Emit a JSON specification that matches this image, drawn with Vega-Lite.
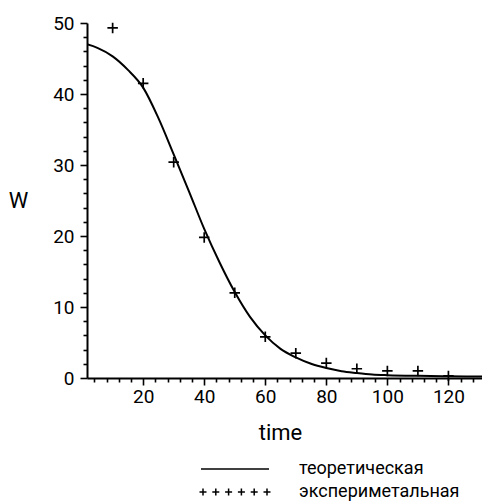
{
  "$schema": "https://vega.github.io/schema/vega-lite/v6.json",
  "autosize": {"type": "none"},
  "padding": {"left": 87, "top": 23, "right": 0, "bottom": 123},
  "width": 395,
  "height": 355,
  "background": "white",
  "datasets": {
    "curve": [
      {"time": 1.6, "W": 47.0}, {"time": 5, "W": 46.5}, {"time": 10, "W": 45.3},
      {"time": 15, "W": 43.4}, {"time": 20, "W": 40.9}, {"time": 25, "W": 36.6},
      {"time": 30, "W": 31.5}, {"time": 35, "W": 26.3}, {"time": 40, "W": 21.0},
      {"time": 45, "W": 16.3}, {"time": 50, "W": 12.1}, {"time": 55, "W": 8.6},
      {"time": 60, "W": 6.0}, {"time": 65, "W": 4.1}, {"time": 70, "W": 2.9},
      {"time": 75, "W": 2.0}, {"time": 80, "W": 1.4}, {"time": 85, "W": 0.95},
      {"time": 90, "W": 0.7}, {"time": 95, "W": 0.5}, {"time": 100, "W": 0.4},
      {"time": 110, "W": 0.3}, {"time": 120, "W": 0.25}, {"time": 131, "W": 0.2}
    ],
    "exp": [
      {"time": 10, "W": 49.3, "series": "экспериметальная"},
      {"time": 20, "W": 41.5, "series": "экспериметальная"},
      {"time": 30, "W": 30.4, "series": "экспериметальная"},
      {"time": 40, "W": 19.8, "series": "экспериметальная"},
      {"time": 50, "W": 12.0, "series": "экспериметальная"},
      {"time": 60, "W": 5.8, "series": "экспериметальная"},
      {"time": 70, "W": 3.5, "series": "экспериметальная"},
      {"time": 80, "W": 2.1, "series": "экспериметальная"},
      {"time": 90, "W": 1.3, "series": "экспериметальная"},
      {"time": 100, "W": 1.0, "series": "экспериметальная"},
      {"time": 110, "W": 1.0, "series": "экспериметальная"},
      {"time": 120, "W": 0.3, "series": "экспериметальная"}
    ]
  },
  "layer": [
    {
      "data": {"name": "curve"},
      "mark": {"type": "line", "color": "black", "strokeWidth": 2, "interpolate": "monotone", "clip": true},
      "encoding": {
        "x": {
          "field": "time", "type": "quantitative",
          "scale": {"domain": [1.6, 131], "nice": false, "zero": false},
          "axis": {
            "orient": "bottom",
            "values": [20, 40, 60, 80, 100, 120], "tickSize": 7, "labelPadding": 2,
            "title": "time", "titleX": 193, "titleY": 54, "titleAlign": "center", "titleBaseline": "middle",
            "labelFlush": false
          }
        },
        "y": {
          "field": "W", "type": "quantitative",
          "scale": {"domain": [0, 50], "nice": false, "zero": false},
          "axis": {
            "orient": "left",
            "values": [0, 10, 20, 30, 40, 50], "tickSize": 7, "labelPadding": 6,
            "title": "W", "titleAngle": 0, "titleX": -69, "titleY": 177, "titleAlign": "center", "titleBaseline": "middle",
            "labelFlush": false
          }
        }
      }
    },
    {
      "data": {"name": "exp"},
      "mark": {"type": "point", "filled": false, "stroke": "black", "strokeWidth": 1.7, "size": 110, "opacity": 1, "shape": "M-1,0H1M0,-1V1"},
      "encoding": {
        "x": {
          "field": "time", "type": "quantitative",
          "scale": {"domain": [1.6, 131], "nice": false, "zero": false},
          "axis": {
            "orient": "bottom",
            "values": [4, 8, 12, 16, 24, 28, 32, 36, 44, 48, 52, 56, 64, 68, 72, 76, 84, 88, 92, 96, 104, 108, 112, 116, 124, 128],
            "tickSize": 4, "labels": false, "domain": false, "title": null
          }
        },
        "y": {
          "field": "W", "type": "quantitative",
          "scale": {"domain": [0, 50], "nice": false, "zero": false},
          "axis": {
            "orient": "left",
            "values": [2, 4, 6, 8, 12, 14, 16, 18, 22, 24, 26, 28, 32, 34, 36, 38, 42, 44, 46, 48],
            "tickSize": 4, "labels": false, "domain": false, "title": null
          }
        }
      }
    },
    {
      "data": {"name": "exp"},
      "mark": {"type": "point", "filled": false, "stroke": "black", "strokeWidth": 1.5, "opacity": 0},
      "encoding": {
        "x": {"field": "time", "type": "quantitative", "scale": {"domain": [1.6, 131], "nice": false, "zero": false}, "axis": null},
        "y": {"field": "W", "type": "quantitative", "scale": {"domain": [0, 50], "nice": false, "zero": false}, "axis": null},
        "shape": {
          "field": "series", "type": "nominal",
          "scale": {
            "domain": ["теоретическая", "экспериметальная"],
            "range": [
              "M-3.4,0H3.4",
              "M-3.55,0H-2.85M-3.2,-0.35V0.35M-2.27,0H-1.57M-1.92,-0.35V0.35M-0.99,0H-0.29M-0.64,-0.35V0.35M0.29,0H0.99M0.64,-0.35V0.35M1.57,0H2.27M1.92,-0.35V0.35M2.85,0H3.55M3.2,-0.35V0.35"
            ]
          },
          "legend": {
            "orient": "none", "legendX": 137, "legendY": 435, "title": null, "padding": 0,
            "symbolSize": 400, "symbolStrokeColor": "black", "symbolStrokeWidth": 1.5, "symbolFillColor": "transparent",
            "symbolOpacity": 1,
            "labelOffset": 53, "labelFontSize": 18, "labelLimit": 400, "rowPadding": 3
          }
        }
      }
    }
  ],
  "resolve": {"axis": {"x": "independent", "y": "independent"}},
  "config": {
    "view": {"stroke": null},
    "font": "Roboto",
    "axis": {
      "grid": false, "domainColor": "black", "domainWidth": 2, "tickColor": "black", "tickWidth": 1.6,
      "labelColor": "black", "labelFontSize": 19, "labelFont": "Roboto",
      "titleColor": "black", "titleFontSize": 22, "titleFontWeight": "normal", "titleFont": "Roboto"
    },
    "legend": {"labelColor": "black", "labelFont": "Roboto"}
  }
}
